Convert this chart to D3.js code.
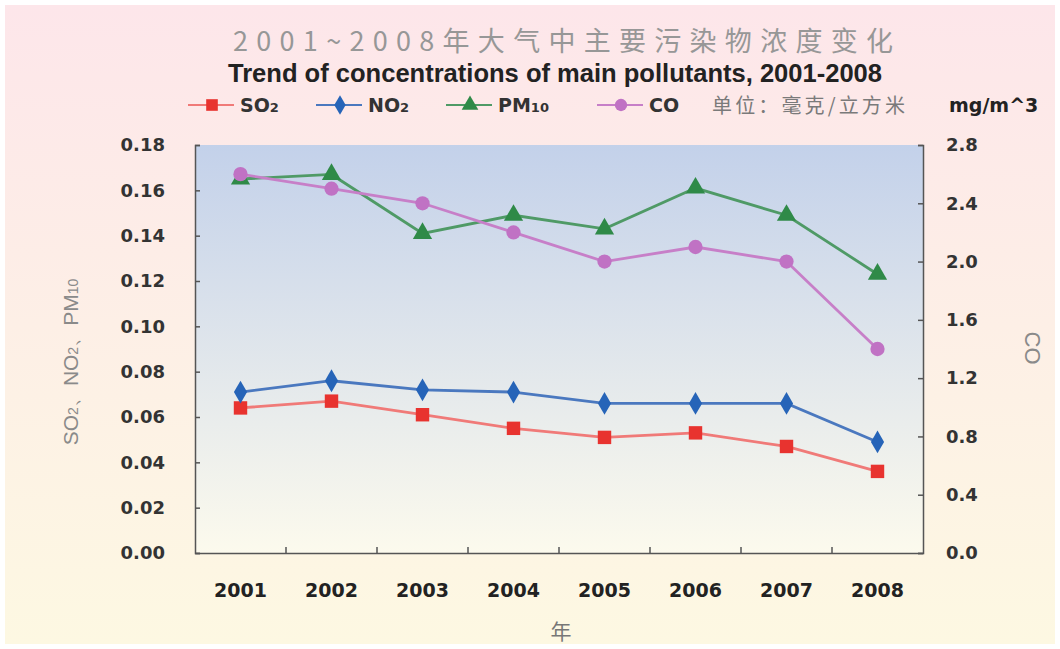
<!DOCTYPE html>
<html><head><meta charset="utf-8">
<script src="https://cdn.jsdelivr.net/npm/d3@7"></script>
<style>body{margin:0;padding:0;overflow:hidden}svg{display:block}</style>
</head><body>
<svg id="c" width="1060" height="649"></svg>
<script>
const years = ["2001","2002","2003","2004","2005","2006","2007","2008"];
const so2  = [0.064,0.067,0.061,0.055,0.051,0.053,0.047,0.036];
const no2  = [0.071,0.076,0.072,0.071,0.066,0.066,0.066,0.049];
const pm10 = [0.165,0.167,0.141,0.149,0.143,0.161,0.149,0.123];
const co   = [2.6,2.5,2.4,2.2,2.0,2.1,2.0,1.4];
const leftTicks = [0,0.02,0.04,0.06,0.08,0.10,0.12,0.14,0.16,0.18];
const rightTicks = [0,0.4,0.8,1.2,1.6,2.0,2.4,2.8];

const svg = d3.select("#c");
const defs = svg.append("defs");
const bg = defs.append("linearGradient").attr("id","bg").attr("x1",0).attr("y1",0).attr("x2",0).attr("y2",1);
bg.append("stop").attr("offset","0%").attr("stop-color","#fde6ea");
bg.append("stop").attr("offset","100%").attr("stop-color","#fdf8e2");
const pg = defs.append("linearGradient").attr("id","pg").attr("x1",0).attr("y1",0).attr("x2",0).attr("y2",1);
pg.append("stop").attr("offset","0%").attr("stop-color","#c3d1ea");
pg.append("stop").attr("offset","100%").attr("stop-color","#fcfaed");

svg.append("rect").attr("width",1060).attr("height",649).attr("fill","#fff");
svg.append("rect").attr("x",5).attr("y",5).attr("width",1050).attr("height",639).attr("fill","url(#bg)");

const L=195, R=923, T=145, B=553;
const x = d3.scaleBand().domain(years).range([L,R]);
const yL = d3.scaleLinear().domain([0,0.18]).range([B,T]);
const yR = d3.scaleLinear().domain([0,2.8]).range([B,T]);

svg.append("rect").attr("x",L).attr("y",T).attr("width",R-L).attr("height",B-T).attr("fill","url(#pg)");

const font = "Arial, 'Liberation Sans', sans-serif";
const tfont = "'DejaVu Sans', sans-serif";
// left axis
const gl = svg.append("g").attr("transform",`translate(${L},0)`)
  .call(d3.axisLeft(yL).tickValues(leftTicks).tickSize(-5).tickPadding(30).tickFormat(d3.format(".2f")));
gl.selectAll("text").attr("font-family",tfont).attr("font-size",18).attr("font-weight","bold").attr("fill","#333");
gl.selectAll("line,path").attr("stroke","#555").attr("stroke-width",1.5);
// right axis
const gr = svg.append("g").attr("transform",`translate(${R},0)`)
  .call(d3.axisRight(yR).tickValues(rightTicks).tickSize(-5).tickPadding(23).tickFormat(d3.format(".1f")));
gr.selectAll("text").attr("font-family",tfont).attr("font-size",18).attr("font-weight","bold").attr("fill","#333");
gr.selectAll("line,path").attr("stroke","#555").attr("stroke-width",1.5);
// bottom axis
const gb = svg.append("g").attr("transform",`translate(0,${B})`)
  .call(d3.axisBottom(x).tickSize(0).tickPadding(31));
gb.selectAll("text").attr("font-family",tfont).attr("font-size",19).attr("font-weight","bold").attr("fill","#222");
gb.selectAll("path").attr("stroke","#555").attr("stroke-width",1.5);
// inner category boundary ticks
svg.append("g").selectAll("line").data(years.slice(1)).join("line")
  .attr("x1",d=>x(d)).attr("x2",d=>x(d)).attr("y1",B).attr("y2",B-6)
  .attr("stroke","#555").attr("stroke-width",1.5);

const cx = d => x(d)+x.bandwidth()/2;
const series = [
  {name:"SO", sub:"2", data:so2, scale:yL, line:"#f07a78", fill:"#e8332f", sym:d3.symbolSquare, size:180},
  {name:"NO", sub:"2", data:no2, scale:yL, line:"#4a78bf", fill:"#2664b8", sym:d3.symbolDiamond, size:150},
  {name:"PM", sub:"10", data:pm10, scale:yL, line:"#4f9a66", fill:"#2f8a48", sym:d3.symbolTriangle, size:160},
  {name:"CO", sub:"", data:co, scale:yR, line:"#c77fc8", fill:"#c072c4", sym:d3.symbolCircle, size:160}
];
series.forEach(s=>{
  const line = d3.line().x((d,i)=>cx(years[i])).y(d=>s.scale(d));
  svg.append("path").attr("d",line(s.data)).attr("fill","none").attr("stroke",s.line).attr("stroke-width",2.8);
  svg.append("g").selectAll("path").data(s.data).join("path")
    .attr("d",d3.symbol(s.sym,s.size)).attr("fill",s.fill)
    .attr("transform",(d,i)=>`translate(${cx(years[i])},${s.scale(d)})`);
});

// titles
svg.append("text").attr("x",233).attr("y",51)
  .attr("font-family","'Noto Sans CJK SC', sans-serif").attr("font-size",27)
  .attr("textLength",660).attr("lengthAdjust","spacing")
  .attr("fill","#979797").text("2001~2008年大气中主要污染物浓度变化");
svg.append("text").attr("x",228).attr("y",82)
  .attr("font-family",font).attr("font-size",25).attr("font-weight","bold")
  .attr("textLength",654).attr("lengthAdjust","spacingAndGlyphs")
  .attr("fill","#222").text("Trend of concentrations of main pollutants, 2001-2008");

// legend
const legX = [188, 316, 446, 597];
series.forEach((s,i)=>{
  const g = svg.append("g").attr("transform",`translate(${legX[i]},105)`);
  g.append("line").attr("x1",0).attr("x2",46).attr("stroke",s.line).attr("stroke-width",2);
  g.append("path").attr("d",d3.symbol(s.sym,s.size*0.75)).attr("transform","translate(24,0)").attr("fill",s.fill);
  const t = g.append("text").attr("x",52).attr("y",7).attr("font-family",tfont).attr("font-size",19)
    .attr("font-weight","bold").attr("fill","#333");
  t.append("tspan").text(s.name);
  if(s.sub) t.append("tspan").attr("font-size",13).text(s.sub);
});
svg.append("text").attr("x",712).attr("y",113).attr("font-family","'Noto Sans CJK SC', sans-serif")
  .attr("font-size",20).attr("textLength",193).attr("lengthAdjust","spacing")
  .attr("fill","#7a7a7a").text("单位：毫克/立方米");
svg.append("text").attr("x",949).attr("y",112).attr("font-family",tfont).attr("font-size",19)
  .attr("font-weight","bold").attr("fill","#222").text("mg/m^3");

// axis titles
const lt = svg.append("text").attr("transform","translate(78,362) rotate(-90)").attr("text-anchor","middle")
  .attr("font-family",font).attr("font-size",21).attr("fill","#8a8a8a");
lt.append("tspan").text("SO");lt.append("tspan").attr("font-size",14).text("2");
lt.append("tspan").text("、NO");lt.append("tspan").attr("font-size",14).text("2");
lt.append("tspan").text("、PM");lt.append("tspan").attr("font-size",14).text("10");
svg.append("text").attr("transform","translate(1025,348) rotate(90)").attr("text-anchor","middle")
  .attr("font-family",font).attr("font-size",22).attr("fill","#8a8a8a").text("CO");
svg.append("text").attr("x",561).attr("y",639).attr("text-anchor","middle")
  .attr("font-family","'Noto Sans CJK SC', sans-serif").attr("font-size",21).attr("fill","#777").text("年");
</script>
</body></html>
